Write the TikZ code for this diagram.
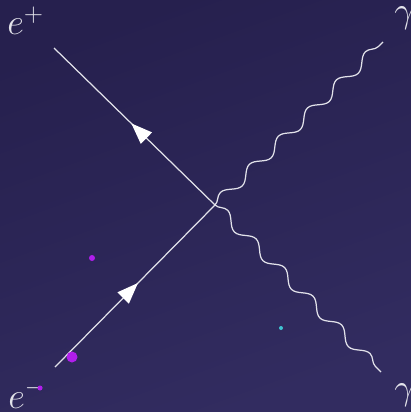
\documentclass[tikz,border=0pt]{standalone}
\usepackage{tikz}
\usetikzlibrary{arrows.meta,decorations.pathmorphing,decorations.markings}

\definecolor{bgtop}{RGB}{38,32,78}
\definecolor{bgbot}{RGB}{50,44,96}
\definecolor{linecol}{RGB}{226,226,234}
\definecolor{dotpurple}{RGB}{176,30,236}
\definecolor{dotcyan}{RGB}{64,196,210}

\begin{document}
\begin{tikzpicture}[
    x=0.02cm, y=-0.02cm,
    fermion/.style={draw=linecol, line width=0.7pt,
        postaction={decorate},
        decoration={markings, mark=at position 0.52 with {\arrow[white]{Triangle[length=12pt, width=9pt]}}}},
    photon/.style={draw=linecol, line width=0.7pt,
        decorate, decoration={snake, segment length=23, amplitude=3pt}},
    lbl/.style={text=linecol, anchor=base west, inner sep=0pt, font=\huge},
    dot/.style={circle, inner sep=0pt}
]

% background
\shade[top color=bgtop, bottom color=bgbot, shading angle=20] (0,0) rectangle (411,412);
\useasboundingbox (0,0) rectangle (411,412);

% vertex and external points
\coordinate (v) at (215,205);
\coordinate (ep) at (54,48);
\coordinate (em) at (55,367);
\coordinate (ga) at (383,42);
\coordinate (gb) at (381,372);

% fermion lines
\draw[fermion] (em) -- (v);
\draw[fermion] (v) -- (ep);

% photon lines
\draw[photon] (v) -- (ga);
\draw[photon] (v) -- (gb);

% labels
\node[lbl] (lep) at (7,35) {$e^+$};
\node[lbl] (lem) at (8,408) {$e^-$};
\node[lbl] (lga) at (394,23) {$\gamma$};
\node[lbl] (lgb) at (394,399) {$\gamma$};

% dots
\fill[dotpurple] (92,258) circle (3);
\fill[dotpurple] (72,357) circle (5.5);
\fill[dotpurple] (40,388) circle (2.5);
\fill[dotcyan] (281,328) circle (2);

\end{tikzpicture}
\end{document}
